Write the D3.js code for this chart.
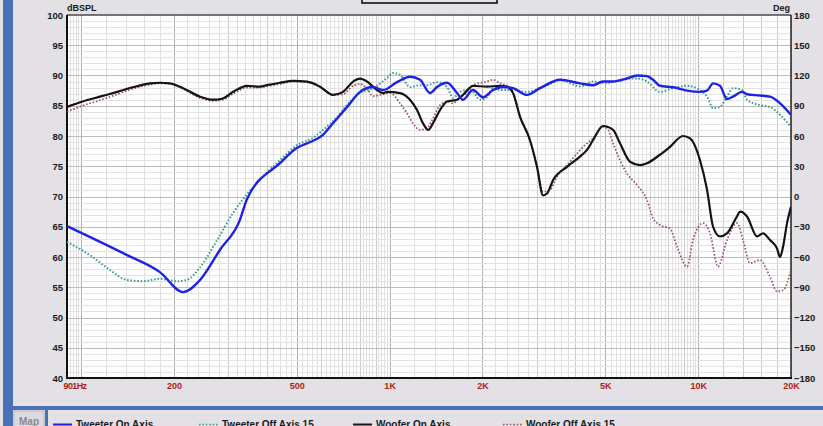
<!DOCTYPE html>
<html>
<head>
<meta charset="utf-8">
<script src="https://cdn.jsdelivr.net/npm/d3@7"></script>
<style>
  html, body { margin: 0; padding: 0; background: #e3e1e5; }
  svg { display: block; font-family: "Liberation Sans", Arial, sans-serif; }
</style>
</head>
<body>
<svg id="chart" width="823" height="426"></svg>
<script>
// ---------------- DATA ----------------
const xTickFreqs  = [90, 200, 500, 1000, 2000, 5000, 10000, 20000];
const xTickLabels = ["901Hz", "200", "500", "1K", "2K", "5K", "10K", "20K"];
const yLeftTicks  = [40, 45, 50, 55, 60, 65, 70, 75, 80, 85, 90, 95, 100];
const yRightTicks = [-180, -150, -120, -90, -60, -30, 0, 30, 60, 90, 120, 150, 180];

const seriesNames = ["Tweeter On Axis", "Tweeter Off Axis 15", "Woofer On Axis", "Woofer Off Axis 15"];

const tweeterOnFreq = [90, 141, 180, 214, 243, 282, 327, 345, 441, 500, 553, 608, 655, 728, 802, 883, 952, 1057, 1164, 1255, 1352, 1424, 1535, 1654, 1729, 1863, 2008, 2164, 2331, 2512, 2788, 3073, 3567, 4141, 4563, 4917, 5300, 5880, 6340, 6830, 7141, 7520, 8290, 9210, 10140, 10690, 11180, 11770, 12400, 12970, 13880, 14400, 15870, 17100, 18430, 20000];
const tweeterOnDb   = [65.1, 60.3, 57.5, 54.2, 56.2, 61.2, 66.1, 69.6, 75.5, 78.0, 79.0, 80.2, 82.1, 84.8, 87.3, 88.1, 87.6, 88.9, 89.8, 89.3, 87.1, 88.1, 88.8, 87.1, 86.0, 87.6, 86.4, 87.6, 88.1, 87.9, 86.8, 87.9, 89.3, 88.7, 88.4, 89.0, 89.0, 89.5, 90.0, 89.9, 89.3, 88.3, 88.05, 87.5, 87.3, 87.5, 88.7, 88.3, 86.1, 86.5, 87.3, 86.9, 86.7, 86.5, 85.4, 83.5];

const tweeterOffFreq = [90, 109, 124, 141, 159, 180, 205, 220, 243, 276, 311, 333, 441, 501, 565, 608, 675, 728, 802, 883, 981, 1025, 1081, 1164, 1255, 1322, 1424, 1535, 1605, 1691, 1782, 1863, 1964, 2068, 2164, 2280, 2512, 2788, 3073, 3386, 3567, 4141, 4563, 5067, 5300, 5880, 6340, 6830, 7520, 8290, 9210, 10140, 10690, 11180, 11770, 12400, 12970, 13880, 14400, 15870, 17100, 18430, 20000];
const tweeterOffDb   = [62.5, 60.0, 57.85, 56.2, 56.0, 56.4, 56.0, 56.2, 58.3, 62.8, 67.3, 69.4, 76.0, 78.5, 79.7, 81.0, 83.1, 85.1, 87.1, 87.9, 89.6, 90.4, 90.1, 88.1, 88.4, 88.4, 88.9, 88.1, 86.3, 87.3, 87.6, 87.3, 86.0, 86.4, 87.9, 87.6, 87.6, 87.3, 87.9, 88.8, 89.3, 88.2, 89.0, 88.7, 89.0, 89.5, 89.5, 89.0, 87.3, 87.9, 88.3, 87.6, 86.5, 84.6, 84.8, 86.5, 87.9, 87.6, 86.0, 85.1, 84.8, 83.5, 81.5];

const wooferOnFreq = [90, 101, 115, 131, 147, 167, 180, 194, 214, 243, 268, 288, 311, 345, 380, 400, 441, 486, 540, 595, 655, 706, 761, 802, 845, 910, 952, 981, 1081, 1164, 1227, 1283, 1335, 1382, 1457, 1535, 1654, 1729, 1863, 2068, 2280, 2402, 2512, 2646, 2851, 3004, 3142, 3237, 3386, 3758, 4141, 4363, 4563, 4917, 5300, 5581, 6015, 6481, 6830, 7520, 8106, 8933, 9413, 10140, 10690, 11180, 11770, 12400, 13360, 13670, 14400, 15520, 16230, 17100, 18020, 18430, 18850, 19420, 20000];
const wooferOnDb   = [84.8, 85.7, 86.5, 87.3, 88.05, 88.7, 88.8, 88.7, 87.9, 86.5, 86.0, 86.2, 87.3, 88.3, 88.15, 88.4, 88.8, 89.1, 89.0, 88.15, 86.8, 87.3, 89.0, 89.5, 89.0, 87.6, 87.1, 87.3, 87.1, 86.0, 84.3, 82.1, 81.0, 82.1, 84.3, 85.7, 86.0, 86.8, 88.3, 88.15, 88.3, 88.15, 87.1, 83.2, 79.3, 74.9, 70.2, 70.5, 72.7, 74.9, 76.6, 77.7, 79.3, 81.65, 81.0, 78.8, 75.75, 75.2, 75.5, 76.9, 78.2, 80.0, 79.6, 76.0, 71.1, 65.0, 63.4, 63.9, 66.7, 67.5, 66.7, 63.4, 63.9, 62.8, 61.4, 60.0, 61.7, 65.6, 68.3];

const wooferOffFreq = [90, 101, 115, 131, 147, 167, 180, 194, 214, 243, 268, 288, 311, 345, 380, 400, 441, 486, 540, 595, 655, 706, 761, 802, 845, 883, 931, 1003, 1081, 1138, 1190, 1255, 1322, 1382, 1457, 1535, 1605, 1691, 1782, 1863, 2068, 2164, 2280, 2402, 2512, 2646, 2851, 3004, 3142, 3310, 3488, 3758, 4050, 4235, 4563, 4917, 5067, 5300, 5581, 5880, 6340, 6830, 7141, 7520, 8106, 8542, 9210, 9625, 10375, 10930, 11600, 12400, 13360, 13980, 14720, 15870, 17100, 18020, 18850, 20000];
const wooferOffDb   = [84.0, 85.0, 85.9, 86.9, 87.8, 88.5, 88.7, 88.6, 87.8, 86.3, 85.8, 86.0, 87.0, 88.0, 88.0, 88.2, 88.6, 89.0, 88.9, 88.1, 86.8, 86.9, 88.3, 88.6, 87.8, 86.6, 86.8, 87.1, 85.4, 83.75, 82.1, 81.0, 81.3, 82.9, 85.1, 85.7, 85.4, 86.5, 87.1, 88.4, 89.0, 89.3, 88.7, 88.3, 87.1, 83.2, 79.3, 74.9, 70.8, 71.1, 73.3, 75.2, 77.1, 78.2, 79.6, 81.5, 81.3, 78.8, 76.0, 73.8, 71.9, 69.4, 66.4, 65.3, 64.7, 61.7, 58.4, 62.8, 65.6, 63.9, 58.4, 62.8, 65.6, 62.8, 59.0, 59.5, 56.7, 54.3, 54.5, 57.85];

const seriesColors = ["#1e22e6", "#3a9e98", "#141414", "#9a5555"];

// ---------------- LAYOUT ----------------
const svg = d3.select("#chart");
const W = 823, H = 426;
const P = { left: 67, right: 791, top: 15, bottom: 378 };

const x = d3.scaleLog().domain([90, 20000]).range([P.left, P.right]);
const y = d3.scaleLinear().domain([40, 100]).range([P.bottom, P.top]);
const yR = d3.scaleLinear().domain([-180, 180]).range([P.bottom, P.top]);

// frame decorations
svg.append("rect").attr("x", 0).attr("y", 0).attr("width", W).attr("height", H).attr("fill", "#e3e1e5");
svg.append("rect").attr("x", 3).attr("y", 0).attr("width", 10).attr("height", H).attr("fill", "#4a71b6");
svg.append("rect").attr("x", 3).attr("y", 406).attr("width", W - 3).attr("height", 4).attr("fill", "#4a71b6");
svg.append("rect").attr("x", 362).attr("y", -20).attr("width", 135).attr("height", 23)
   .attr("fill", "none").attr("stroke", "#111").attr("stroke-width", 1.6);

// plot background
svg.append("rect").attr("x", P.left).attr("y", P.top)
   .attr("width", P.right - P.left).attr("height", P.bottom - P.top).attr("fill", "#ffffff");

// vertical grid
const gridG = svg.append("g");
const vLines = [];
for (let f = 92; f < 100; f += 2) vLines.push({ f, k: 0 });
for (let dec = 100; dec <= 1000; dec *= 10) {
  for (let m = 1; m < 10; m += 0.2) {
    const f = Math.round(dec * m);
    const isInt = Math.abs(m - Math.round(m)) < 1e-6;
    vLines.push({ f, k: isInt ? 1 : 0 });
  }
}
for (let f = 10000; f <= 20000; f += 2000) vLines.push({ f, k: 1 });
const majorF = new Set([100, 200, 500, 1000, 2000, 5000, 10000]);
gridG.selectAll("line.v").data(vLines).join("line")
  .attr("x1", d => Math.round(x(d.f)) + 0.5).attr("x2", d => Math.round(x(d.f)) + 0.5)
  .attr("y1", P.top).attr("y2", P.bottom)
  .attr("stroke", d => majorF.has(d.f) ? "#b0b0b0" : (d.k ? "#cbcbcb" : "#e0e0e0"))
  .attr("stroke-width", 1);

// horizontal grid
const hLines = d3.range(41, 100, 1);
gridG.selectAll("line.h").data(hLines).join("line")
  .attr("x1", P.left).attr("x2", P.right)
  .attr("y1", d => Math.round(y(d)) + 0.5).attr("y2", d => Math.round(y(d)) + 0.5)
  .attr("stroke", d => d % 5 === 0 ? "#bcbcbc" : "#e3e3e3")
  .attr("stroke-width", 1);

// border
svg.append("line").attr("x1", P.left).attr("x2", P.right).attr("y1", P.top).attr("y2", P.top)
   .attr("stroke", "#4a4a4a").attr("stroke-width", 1.5);
svg.append("line").attr("x1", P.right).attr("x2", P.right).attr("y1", P.top).attr("y2", P.bottom)
   .attr("stroke", "#222").attr("stroke-width", 1.5);
svg.append("line").attr("x1", P.left).attr("x2", P.left).attr("y1", P.top).attr("y2", P.bottom + 1)
   .attr("stroke", "#111").attr("stroke-width", 2);
svg.append("line").attr("x1", P.left - 1).attr("x2", P.right + 1).attr("y1", P.bottom).attr("y2", P.bottom)
   .attr("stroke", "#111").attr("stroke-width", 2);

// clip
svg.append("clipPath").attr("id", "clip").append("rect")
   .attr("x", P.left).attr("y", P.top).attr("width", P.right - P.left).attr("height", P.bottom - P.top);

// series
const series = [
  { name: seriesNames[0], f: tweeterOnFreq, v: tweeterOnDb, color: seriesColors[0], w: 2.4, dash: null },
  { name: seriesNames[1], f: tweeterOffFreq, v: tweeterOffDb, color: seriesColors[1], w: 2, dash: "1.6,1.8" },
  { name: seriesNames[2], f: wooferOnFreq, v: wooferOnDb, color: seriesColors[2], w: 2.2, dash: null },
  { name: seriesNames[3], f: wooferOffFreq, v: wooferOffDb, color: seriesColors[3], w: 1.7, dash: "1.6,1.8" }
];
const line = d3.line().x(d => x(d[0])).y(d => y(d[1])).curve(d3.curveMonotoneX);
const drawOrder = [3, 1, 2, 0];
const plotG = svg.append("g").attr("clip-path", "url(#clip)");
drawOrder.forEach(i => {
  const s = series[i];
  plotG.append("path")
    .datum(d3.zip(s.f, s.v))
    .attr("d", line)
    .attr("fill", "none")
    .attr("stroke", s.color)
    .attr("stroke-width", s.w)
    .attr("stroke-linejoin", "round")
    .attr("stroke-dasharray", s.dash);
});

// axes
const axL = svg.append("g").attr("transform", `translate(${P.left},0)`)
  .call(d3.axisLeft(y).tickValues(yLeftTicks).tickSize(0).tickPadding(4));
const axR = svg.append("g").attr("transform", `translate(${P.right},0)`)
  .call(d3.axisRight(yR).tickValues(yRightTicks).tickSize(0).tickPadding(3));
const axB = svg.append("g").attr("transform", `translate(0,${P.bottom})`)
  .call(d3.axisBottom(x).tickValues(xTickFreqs).tickSize(0).tickPadding(5)
        .tickFormat((d, i) => xTickLabels[i]));
[axL, axR, axB].forEach(a => {
  a.select(".domain").remove();
  a.selectAll("text").attr("font-size", 9.5).attr("font-weight", "bold")
    .attr("font-family", "'Liberation Sans', Arial, sans-serif");
});
axL.selectAll("text").attr("fill", "#1a1a1a");
axR.selectAll("text").attr("fill", "#1a1a1a");
axB.selectAll("text").attr("fill", "#b01c1c").attr("font-size", 9);
axB.selectAll("text").filter((d, i) => i === 0).attr("text-anchor", "start").attr("dx", -4)
   .attr("letter-spacing", -0.6);

svg.append("text").attr("x", 67).attr("y", 11).text("dBSPL")
   .attr("font-size", 9).attr("font-weight", "bold").attr("fill", "#1a1a1a");
svg.append("text").attr("x", 790).attr("y", 11).attr("text-anchor", "end").text("Deg")
   .attr("font-size", 9).attr("font-weight", "bold").attr("fill", "#1a1a1a");

// bottom legend strip
svg.append("rect").attr("x", 14).attr("y", 411).attr("width", 30).attr("height", 20)
   .attr("fill", "#dcdadf").attr("stroke", "#b5b5bb");
svg.append("text").attr("x", 29).attr("y", 425).attr("text-anchor", "middle").text("Map")
   .attr("font-size", 10).attr("font-weight", "bold").attr("fill", "#8a8a90");
svg.append("rect").attr("x", 45).attr("y", 410).attr("width", 3).attr("height", 16).attr("fill", "#4a71b6");

const legX = [53, 199, 353, 503];
const leg = svg.append("g").selectAll("g").data(series).join("g")
  .attr("transform", (d, i) => `translate(${legX[i]},0)`);
leg.append("line").attr("x1", 0).attr("x2", 19).attr("y1", 424.5).attr("y2", 424.5)
  .attr("stroke", d => d.color).attr("stroke-width", d => d.dash ? 1.6 : 2)
  .attr("stroke-dasharray", d => d.dash);
leg.append("text").attr("x", 23).attr("y", 427.5).text(d => d.name)
  .attr("font-size", 10).attr("font-weight", "bold").attr("fill", "#1a1a1a");
</script>
</body>
</html>
